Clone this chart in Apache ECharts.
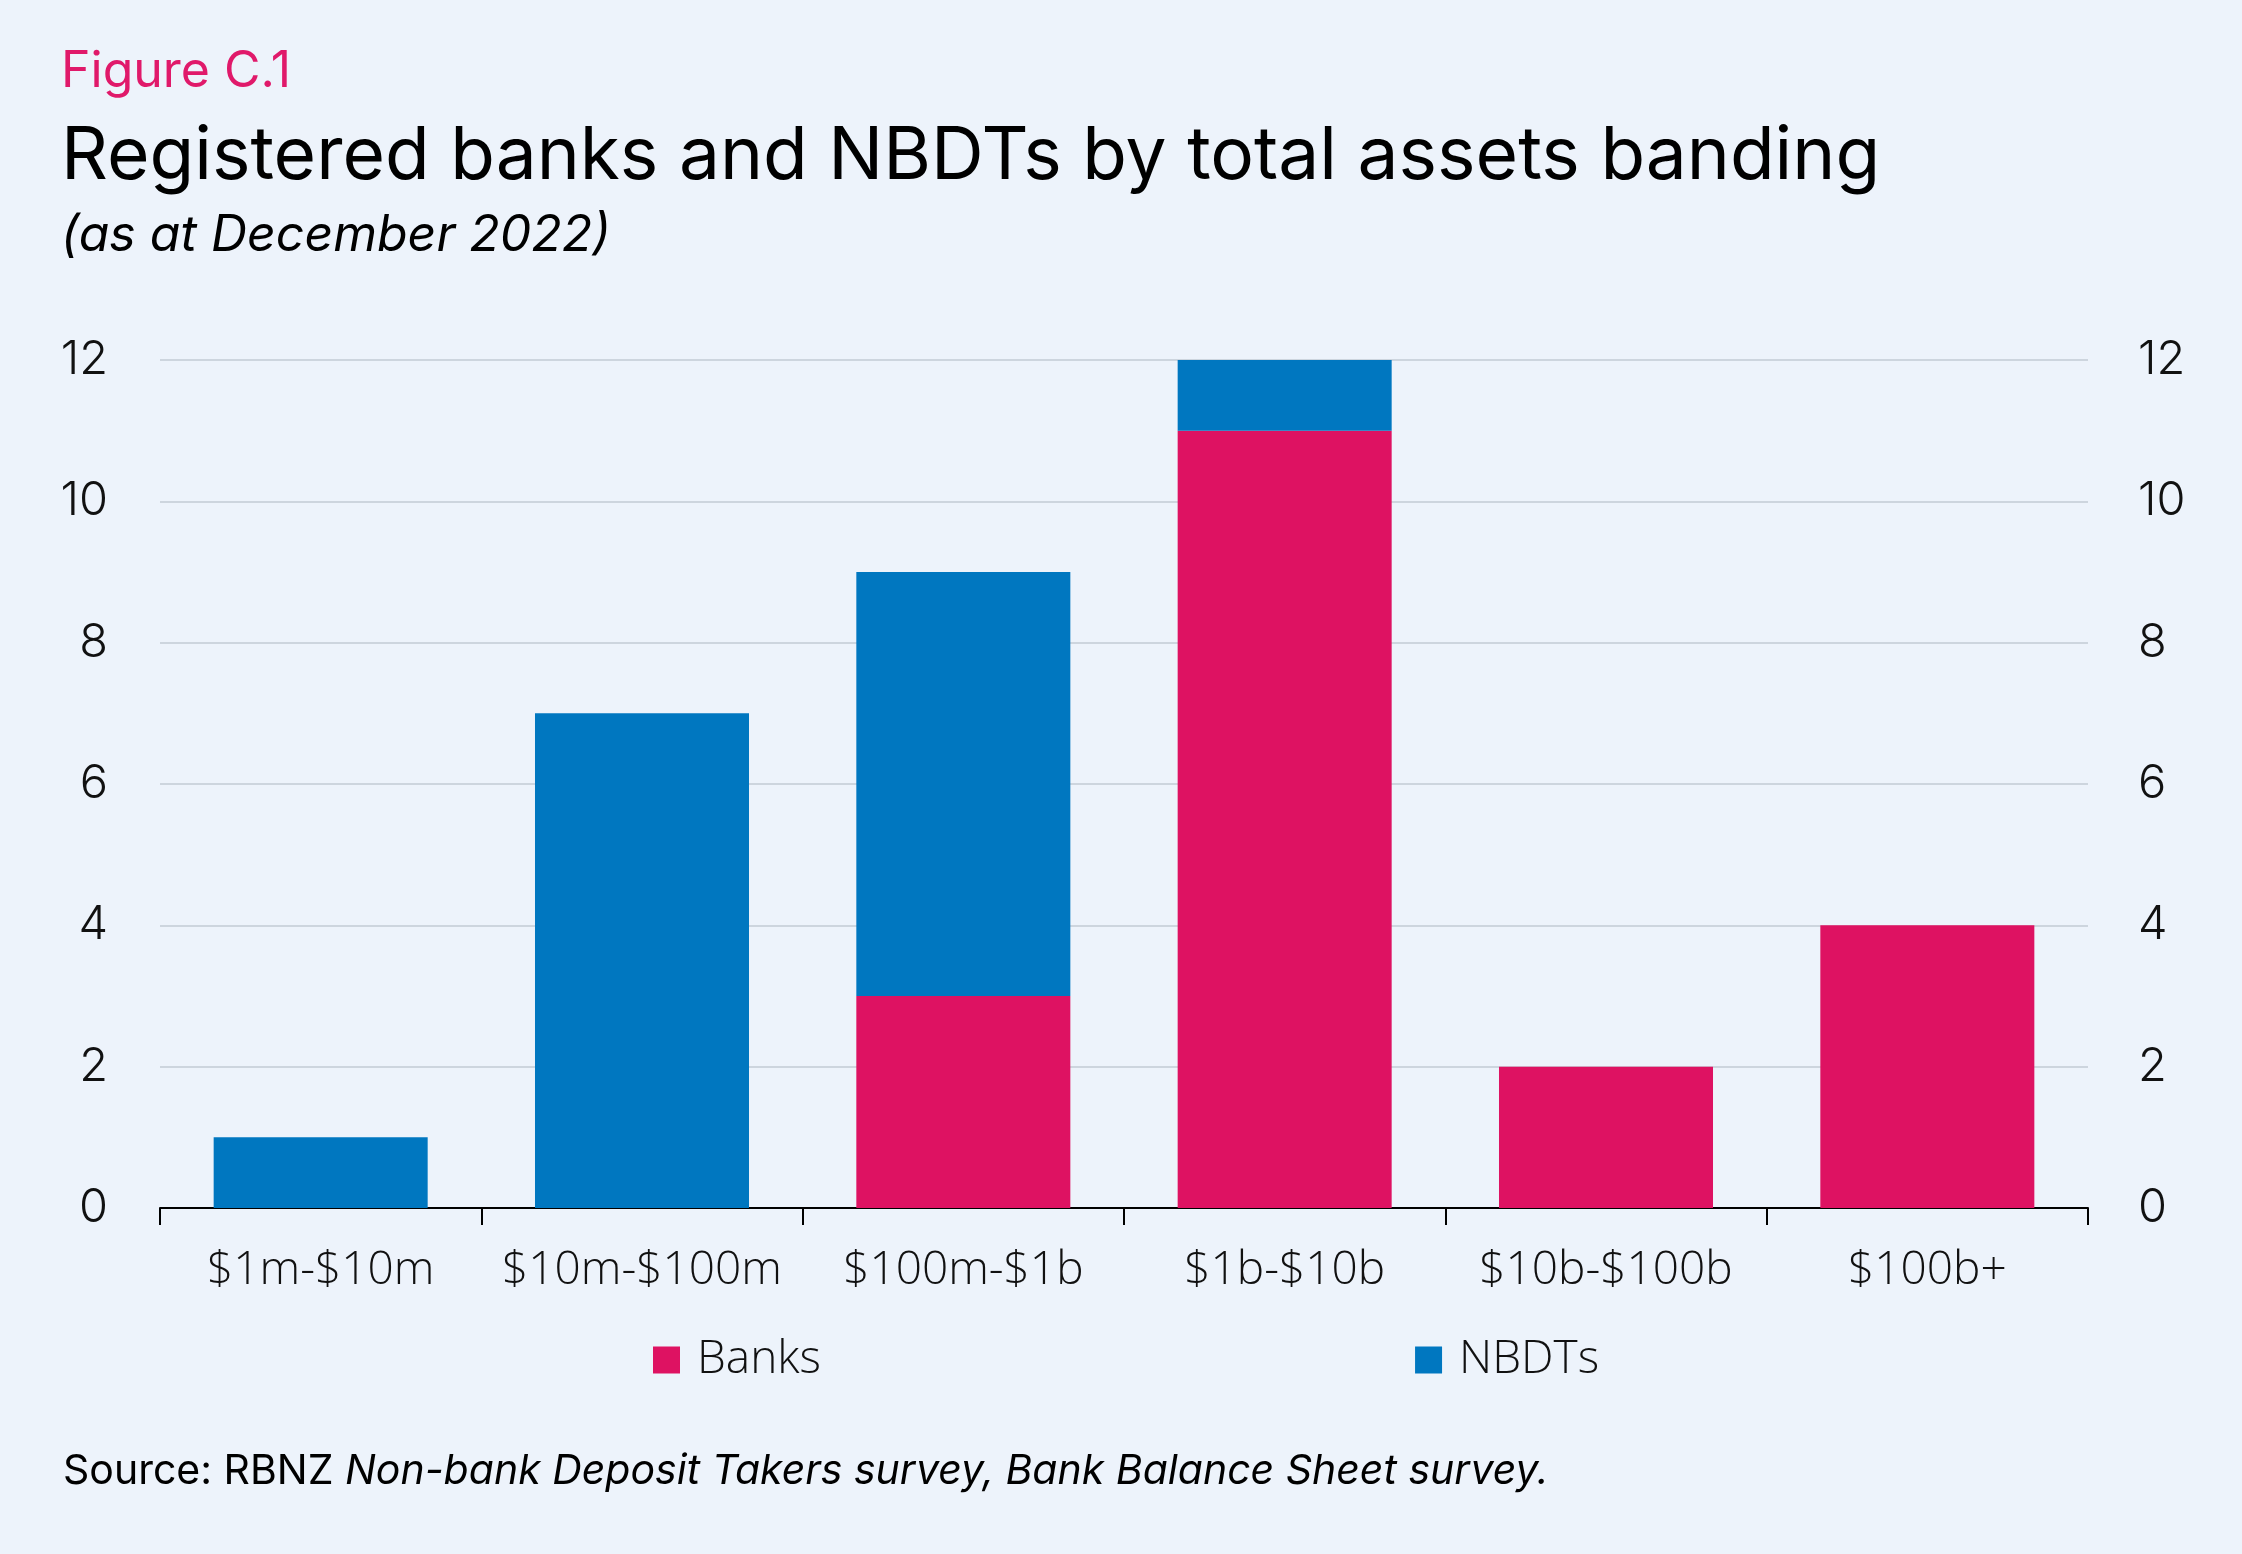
<!DOCTYPE html>
<html><head><meta charset="utf-8">
<script src="https://cdn.jsdelivr.net/npm/echarts@6/dist/echarts.min.js"></script>
<style>html,body{margin:0;padding:0;background:#EDF3FB}#c{width:2242px;height:1554px}</style>
</head><body><div id="c"></div>
<script>
const categories = ['$1m-$10m','$10m-$100m','$100m-$1b','$1b-$10b','$10b-$100b','$100b+'];
const banks = [0,0,3,11,2,4];
const nbdts = [1,7,6,1,0,0];
const yTicks = {min:0,max:12,interval:2};

const chart = echarts.init(document.getElementById('c'));
const axisLabelFont = {fontFamily:'Inter',fontWeight:300,fontSize:47,color:'#111'};
const catFont = {fontFamily:'Open Sans',fontWeight:300,fontSize:46,color:'#111'};
chart.setOption({
  backgroundColor:'#EDF3FB',
  animation:false,
  title:[
    {text:'Figure C.1',left:56,top:42,textStyle:{fontFamily:'Inter',fontWeight:400,fontSize:50,color:'#E0196A'}},
    {text:'Registered banks and NBDTs by total assets banding',left:56,top:116,textStyle:{fontFamily:'Inter',fontWeight:400,fontSize:73,color:'#000'}},
    {text:'(as at December 2022)',left:56,top:206,textStyle:{fontFamily:'Inter',fontStyle:'italic',fontWeight:400,fontSize:50,color:'#000'}},
    {text:'Source: RBNZ {i|Non-bank Deposit Takers survey, Bank Balance Sheet survey.}',left:58,top:1446,textStyle:{fontFamily:'Inter',fontWeight:400,fontSize:41,color:'#000',rich:{i:{fontFamily:'Inter',fontStyle:'italic',fontSize:41,color:'#000'}}}}
  ],
  legend:{
    data:['Banks','NBDTs'],
    left:648,top:1332,
    itemWidth:27,itemHeight:27,itemGap:594,icon:'rect',
    textStyle:Object.assign({padding:[0,0,0,12]},catFont)
  },
  grid:{left:160,right:154,top:360,bottom:346},
  xAxis:{
    type:'category',data:categories,
    axisLine:{lineStyle:{color:'#000',width:2}},
    axisTick:{show:true,interval:0,length:17,lineStyle:{color:'#000',width:2}},
    axisLabel:Object.assign({margin:40,interval:0},catFont)
  },
  yAxis:[
    {type:'value',min:yTicks.min,max:yTicks.max,interval:yTicks.interval,position:'left',
     axisLine:{show:false},axisTick:{show:false},
     splitLine:{lineStyle:{color:'#CDD5DE',width:2}},
     axisLabel:Object.assign({margin:52},axisLabelFont)},
    {type:'value',min:yTicks.min,max:yTicks.max,interval:yTicks.interval,position:'right',
     axisLine:{show:false},axisTick:{show:false},splitLine:{show:false},
     axisLabel:Object.assign({margin:50},axisLabelFont)}
  ],
  series:[
    {name:'Banks',type:'bar',stack:'a',data:banks,barWidth:'66.6%',itemStyle:{color:'#DE1262'}},
    {name:'NBDTs',type:'bar',stack:'a',data:nbdts,barWidth:'66.6%',itemStyle:{color:'#0077C0'}}
  ]
});
</script></body></html>
